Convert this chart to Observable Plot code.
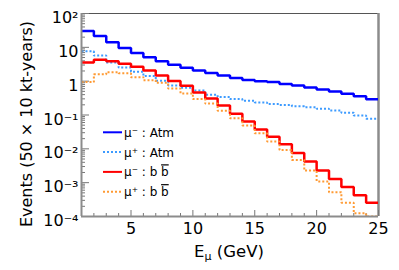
<!DOCTYPE html>
<html><head><meta charset="utf-8">
<script src="https://cdn.jsdelivr.net/npm/d3@7"></script>
<script src="https://cdn.jsdelivr.net/npm/@observablehq/plot@0.6"></script>
<style>body{margin:0;background:#fff}#chart{width:399px;height:270px}</style>
</head><body><div id="chart"></div>
<script>
// Bin edges (GeV)
const energyEdges = [1,2,3,4,5,6,7,8,9,10,11,12,13,14,15,16,17,18,19,20,21,22,23,24,25];
// Series values per 1-GeV bin
const muMinusAtm = [30.6,21.7,14.1,9.58,6.81,5.08,3.86,3.08,2.51,2.05,1.74,1.46,1.24,1.08,0.99,0.94,0.82,0.74,0.655,0.571,0.499,0.426,0.361,0.294];
const muPlusAtm  = [7.65,5.70,3.56,2.53,1.90,1.42,1.03,0.741,0.641,0.534,0.398,0.338,0.295,0.264,0.235,0.211,0.198,0.181,0.169,0.153,0.136,0.117,0.097,0.078];
const muMinusBB  = [3.54,4.28,3.86,3.26,2.69,2.05,1.47,1.02,0.726,0.466,0.309,0.192,0.109,0.0643,0.0372,0.0226,0.0137,0.00759,0.00419,0.00227,0.00128,0.00074,0.000426,0.000255];
const muPlusBB   = [0.94,1.59,1.85,1.70,1.31,1.07,0.891,0.612,0.435,0.295,0.217,0.133,0.0806,0.0489,0.0289,0.0166,0.00919,0.00471,0.00227,0.00109,0.000522,0.000255,0.000125,0.0001];
// Ticks
const yMajor = [1e-4,1e-3,1e-2,1e-1,1,10,100];
const yLabels = ["10⁻⁴","10⁻³","10⁻²","10⁻¹","1","10","10²"];
const xMajor = [5,10,15,20,25];
const xLabels = ["5","10","15","20","25"];
const xMinor = [2,3,4,6,7,8,9,11,12,13,14,16,17,18,19,21,22,23,24];
const yMinorMantissa = [2,3,4,5,6,7,8,9];
// Legend
const legendNames = ["μ⁻ : Atm","μ⁺ : Atm","μ⁻ : b ","μ⁺ : b "];
const legendBar = [false,false,true,true];

const yMinor = yMajor.slice(0,-1).flatMap(d => yMinorMantissa.map(m => m*d));
const toSteps = vals => energyEdges.map((e,i) => ({e, v: vals[Math.min(i, vals.length-1)]}));

const W = 399, H = 270, mL = 81, mR = 21, mT = 13, mB = 54;
const iw = W - mL - mR, ih = H - mT - mB;
const tickCol = "#777", axisCol = "#8c8c8c";

const series = [
  {vals: muMinusAtm, stroke: "#0000ff", dash: null, sw: 2.5},
  {vals: muPlusAtm,  stroke: "#3d9bff", dash: "2,2", sw: 2},
  {vals: muMinusBB,  stroke: "#ff0000", dash: null, sw: 2.5},
  {vals: muPlusBB,   stroke: "#ff9a33", dash: "2,2", sw: 2}
];

const plot = Plot.plot({
  width: W, height: H,
  marginLeft: mL, marginRight: mR, marginTop: mT, marginBottom: mB,
  style: {fontFamily: "DejaVu Sans", background: "#fff", color: "#000"},
  x: {type: "linear", domain: [1, 25]},
  y: {type: "log", domain: [1e-4, 100]},
  marks: [
    Plot.ruleY([100], {stroke: "#555", strokeWidth: 1}),
    Plot.ruleX([25], {stroke: axisCol, strokeWidth: 2.5}),
    Plot.ruleY(yMinor, {insetRight: iw - 4, stroke: tickCol}),
    Plot.ruleY(yMajor, {insetRight: iw - 8, stroke: tickCol}),
    Plot.ruleX(xMinor, {insetTop: ih - 3, stroke: tickCol}),
    Plot.ruleX(xMajor, {insetTop: ih - 6, stroke: tickCol}),
    ...series.map(s => Plot.line(toSteps(s.vals), {
      x: "e", y: "v", curve: "step-after", stroke: s.stroke, strokeWidth: s.sw,
      strokeDasharray: s.dash, strokeLinejoin: "miter", strokeLinecap: "butt", clip: true
    })),
    Plot.ruleX([1], {stroke: axisCol, strokeWidth: 2}),
    Plot.ruleY([1e-4], {stroke: axisCol, strokeWidth: 2}),
    Plot.axisY(yMajor, {tickSize: 0, tickPadding: 3, fontSize: 16, dy: 4.5,
      tickFormat: d => yLabels[yMajor.indexOf(d)], label: null}),
    Plot.axisX(xMajor, {tickSize: 0, tickPadding: 6, fontSize: 16,
      tickFormat: d => xLabels[xMajor.indexOf(d)], label: null})
  ]
});

const svg = d3.select(plot);
const xt = svg.append("text").attr("x", 229).attr("y", 257).attr("text-anchor", "middle")
  .attr("font-family", "DejaVu Sans").attr("font-size", 16.5).attr("fill", "#000");
xt.append("tspan").text("E");
xt.append("tspan").attr("font-size", 11).attr("dy", 3).text("μ");
xt.append("tspan").attr("dy", -3).text(" (GeV)");
svg.append("text").attr("transform", "translate(32,124) rotate(-90)").attr("text-anchor", "middle")
  .attr("font-family", "DejaVu Sans").attr("font-size", 16).attr("fill", "#000")
  .text("Events (50 × 10 kt-years)");
const lg = svg.append("g").attr("font-family", "DejaVu Sans").attr("font-size", 12)
  .attr("fill", "#000").attr("text-anchor", "start");
series.forEach((s, i) => {
  const yy = 132.3 + i * 19.8;
  lg.append("line").attr("x1", 103).attr("x2", 122).attr("y1", yy).attr("y2", yy)
    .attr("stroke", s.stroke).attr("stroke-width", 2).attr("stroke-dasharray", s.dash);
  const t = lg.append("text").attr("x", 124).attr("y", yy + 4.4).attr("text-anchor", "start");
  t.append("tspan").text(legendNames[i]);
  if (legendBar[i]) t.append("tspan").style("text-decoration", "overline").text("b");
});
document.getElementById("chart").appendChild(plot);
</script>
</body></html>
